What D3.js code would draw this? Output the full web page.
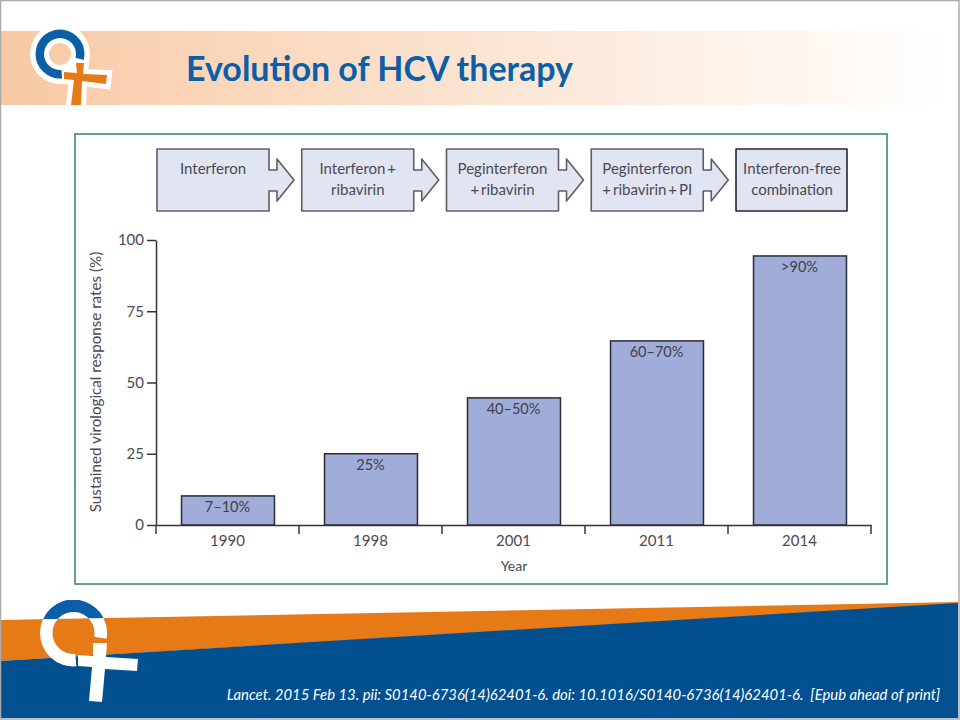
<!DOCTYPE html>
<html>
<head>
<meta charset="utf-8">
<script src="https://cdn.jsdelivr.net/npm/d3@7"></script>
<style>
  html, body { margin: 0; padding: 0; background: #fff; }
  svg { display: block; }
  text { font-family: Lato, "Open Sans", sans-serif; white-space: pre; }
</style>
</head>
<body>
<svg width="960" height="720"></svg>
<script>
var years = ["1990", "1998", "2001", "2011", "2014"];
var rates = [10.2, 25, 44.6, 64.6, 94.4];
var rateLabels = ["7–10%", "25%", "40–50%", "60–70%", ">90%"];
var yTicks = [0, 25, 50, 75, 100];
var stepLines = [
  ["Interferon"],
  ["Interferon\u2009+", "ribavirin"],
  ["Peginterferon", "+\u2009ribavirin"],
  ["Peginterferon", "+\u2009ribavirin\u2009+\u2009PI"],
  ["Interferon-free", "combination"]
];

var svg = d3.select("svg");
var defs = svg.append("defs");

// header band
var grad = defs.append("linearGradient").attr("id", "headerFade");
grad.append("stop").attr("offset", "0%").attr("stop-color", "#f8c9a4");
grad.append("stop").attr("offset", "100%").attr("stop-color", "#ffffff");

svg.append("rect").attr("x", 0).attr("y", 31).attr("width", 948).attr("height", 74)
    .attr("fill", "url(#headerFade)");

svg.append("text")
    .attr("x", 186).attr("y", 81)
    .style("font-size", "34px").style("font-weight", 700)
    .attr("fill", "#0b5fa8")
    .text("Evolution of HCV therapy");

// footer wedges
svg.append("path").attr("d", "M0,620L958,602V604L0,661Z").attr("fill", "#e67a17");
svg.append("path").attr("d", "M0,661L958,603V718H0Z").attr("fill", "#02508f");

// slide edge
svg.append("rect").attr("x", 0.5).attr("y", 0.5).attr("width", 958.5).attr("height", 718.5)
    .attr("fill", "none").attr("stroke", "#aaa").attr("stroke-width", 1.5);

svg.append("text")
    .attr("x", 940).attr("y", 700).attr("text-anchor", "end")
    .style("font-size", "14.87px").style("font-style", "italic")
    .attr("fill", "#fff")
    .text("Lancet. 2015 Feb 13. pii: S0140-6736(14)62401-6. doi: 10.1016/S0140-6736(14)62401-6.  [Epub ahead of print]");

// top logo
var deg = Math.PI / 180;
var topLogo = svg.append("g");
topLogo.append("path")
    .attr("transform", "translate(60,54)")
    .attr("d", d3.arc()({innerRadius: 11, outerRadius: 30, startAngle: 0, endAngle: 2 * Math.PI}))
    .attr("fill", "#fff");
var topCross = "M64,72L77,73L76,63H84L83,74L107,75L106,84L82,81L81,105H71L74,80L64,79Z";
topLogo.append("path").attr("d", topCross).attr("fill", "#fff").attr("stroke", "#fff").attr("stroke-width", 10);
topLogo.append("path")
    .attr("transform", "translate(60,54)")
    .attr("d", d3.arc()({innerRadius: 16, outerRadius: 24.5, startAngle: 175 * deg, endAngle: 464 * deg}))
    .attr("fill", "#0b5fa8");
topLogo.append("path").attr("d", topCross).attr("fill", "#e67a17");

// bottom logo
defs.append("clipPath").attr("id", "aboveWedge").append("path")
    .attr("d", "M0,600H960V602L0,620Z");
defs.append("clipPath").attr("id", "belowTop").append("rect")
    .attr("x", 0).attr("y", 600).attr("width", 960).attr("height", 120);

var ringArc = d3.arc()({innerRadius: 21, outerRadius: 33.5, startAngle: 175 * deg, endAngle: 460 * deg});
var bottomLogo = svg.append("g");
bottomLogo.append("g").attr("clip-path", "url(#belowTop)")
  .append("path").attr("transform", "translate(73.5,633)").attr("d", ringArc).attr("fill", "#fff");
bottomLogo.append("g").attr("clip-path", "url(#aboveWedge)")
  .append("path").attr("transform", "translate(73.5,633)").attr("d", ringArc).attr("fill", "#0b5fa8");
bottomLogo.append("path")
    .attr("d", "M78,655L93,656L93,643L107,643L106,657L138,659L137,671L105,669L102,702L89,701L92,667L78,666Z")
    .attr("fill", "#fff");

// figure frame
svg.append("rect")
    .attr("x", 75).attr("y", 134).attr("width", 812).attr("height", 450)
    .attr("fill", "#fff").attr("stroke", "#3d8a6c").attr("stroke-width", 1.6);

// treatment steps
var stepX = d3.scalePoint().domain(d3.range(stepLines.length)).range([157, 736]);
var steps = svg.selectAll(".step")
    .data(stepLines)
  .enter().append("g")
    .attr("class", "step")
    .attr("transform", function(d, i) { return "translate(" + stepX(i) + ",149)"; });

steps.append("path")
    .attr("d", function(d, i) {
      if (i === stepLines.length - 1) return "M0,0H111V62H0Z";
      return "M0,0H112V21H120V10L137,31L120,52V42H112V62H0Z";
    })
    .attr("fill", "#e1e4f1")
    .attr("stroke", function(d, i) { return i === stepLines.length - 1 ? "#26262e" : "#5e5e66"; })
    .attr("stroke-width", 1.6)
    .attr("stroke-linejoin", "round");

steps.selectAll("text")
    .data(function(d) { return d; })
  .enter().append("text")
    .attr("x", 56).attr("y", function(d, i) { return 25 + i * 21; })
    .attr("text-anchor", "middle")
    .style("font-size", "15px")
    .attr("fill", "#4a4a55")
    .text(function(d) { return d; });

// chart
var margin = {top: 240, left: 156},
    width = 715,
    height = 285,
    g = svg.append("g").attr("transform", "translate(" + margin.left + "," + margin.top + ")");

var x = d3.scaleBand().domain(years).range([0, width]).paddingInner(0).paddingOuter(0);
var y = d3.scaleLinear().domain([0, 100]).range([height, 0]);
var barWidth = x.bandwidth() * 0.65;

g.selectAll(".bar")
    .data(years)
  .enter().append("rect")
    .attr("class", "bar")
    .attr("x", function(d) { return x(d) + (x.bandwidth() - barWidth) / 2 + 0.5; })
    .attr("y", function(d, i) { return y(rates[i]); })
    .attr("width", barWidth)
    .attr("height", function(d, i) { return height - y(rates[i]); })
    .attr("fill", "#9fadd8")
    .attr("stroke", "#2b2b36")
    .attr("stroke-width", 1.5);

g.selectAll(".rate")
    .data(years)
  .enter().append("text")
    .attr("class", "rate")
    .attr("x", function(d) { return x(d) + x.bandwidth() / 2; })
    .attr("y", function(d, i) { return y(rates[i]) + 16; })
    .attr("text-anchor", "middle")
    .style("font-size", "14.5px")
    .attr("fill", "#3f3f4e")
    .text(function(d, i) { return rateLabels[i]; });

var yAxis = g.append("g").call(d3.axisLeft(y).tickValues(yTicks).tickSize(9).tickSizeOuter(0));
var xAxis = g.append("g")
    .attr("transform", "translate(0," + height + ")")
    .call(d3.axisBottom(x).tickSize(0).tickPadding(10));

// band boundary ticks on the x axis
xAxis.selectAll(".edge")
    .data(years.concat("end"))
  .enter().append("line")
    .attr("class", "edge")
    .attr("x1", function(d) { return d === "end" ? width : x(d); })
    .attr("x2", function(d) { return d === "end" ? width : x(d); })
    .attr("y2", 9);

[yAxis, xAxis].forEach(function(a) {
  a.selectAll("path, line").attr("stroke", "#33333c").attr("stroke-width", 1.5);
  a.selectAll("text").style("font-size", "15px").style("font-family", "Lato, sans-serif").attr("fill", "#4a4a50");
});

svg.append("text")
    .attr("x", 514).attr("y", 571)
    .attr("text-anchor", "middle")
    .style("font-size", "14px")
    .attr("fill", "#4a4a50")
    .text("Year");

svg.append("text")
    .attr("transform", "rotate(-90)")
    .attr("x", -382).attr("y", 101)
    .attr("text-anchor", "middle")
    .style("font-size", "15.2px")
    .attr("fill", "#4a4a50")
    .text("Sustained virological response rates (%)");
</script>
</body>
</html>
